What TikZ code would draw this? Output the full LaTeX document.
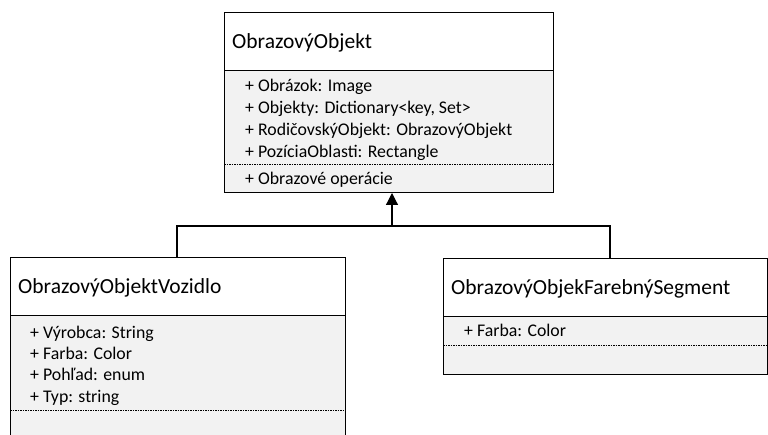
\documentclass[tikz,border=0pt]{standalone}
\usepackage{fontspec}
\setmainfont{Carlito}
\usetikzlibrary{arrows.meta}
\definecolor{compfill}{HTML}{F2F2F2}
\tikzset{
  x=1pt, y=-1pt,
  comp/.style={fill=compfill, draw=black, line width=1pt},
  head/.style={fill=white, draw=black, line width=1pt},
  sep/.style={draw=black, line width=0.6pt, dash pattern=on 1.5pt off 1pt},
  titletxt/.style={anchor=base west, inner sep=0pt, font=\fontsize{21.5}{24}\selectfont},
  attr/.style={anchor=base west, inner sep=0pt, font=\fontsize{17.8}{20}\selectfont},
  conn/.style={draw=black, line width=1.2pt},
}
\begin{document}
\begin{tikzpicture}
\useasboundingbox (0,0) rectangle (768,435);
% top class
\path[comp] (224,71) rectangle (553,193);
\path[head] (224,13) rectangle (553,71);
\draw[sep] (224,164) -- (553,164);
\node[titletxt] (t1) at (232,49) {ObrazovýObjekt};
\node[attr] (a1) at (245,92) {+ Obrázok: Image};
\node[attr] (a2) at (245,113.5) {+ Objekty: Dictionary<key, Set>};
\node[attr] (a3) at (245,135.5) {+ RodičovskýObjekt: ObrazovýObjekt};
\node[attr] (a4) at (245,157.5) {+ PozíciaOblasti: Rectangle};
\node[attr] (a5) at (245,184.5) {+ Obrazové operácie};
\coordinate (topb) at (392,193);
% left class
\path[comp] (10,316) rectangle (345,440);
\path[head] (10,258) rectangle (345,316);
\draw[sep] (10,410) -- (345,410);
\node[titletxt] (t2) at (18,294) {ObrazovýObjektVozidlo};
\node[attr] (b1) at (30,338) {+ Výrobca: String};
\node[attr] (b2) at (30,359.5) {+ Farba: Color};
\node[attr] (b3) at (30,381) {+ Pohľad: enum};
\node[attr] (b4) at (30,402.5) {+ Typ: string};
\coordinate (leftt) at (177,258);
% right class
\path[comp] (443,317) rectangle (767,374);
\path[head] (443,259) rectangle (767,317);
\draw[sep] (443,345) -- (767,345);
\node[titletxt] (t3) at (451,295) {ObrazovýObjekFarebnýSegment};
\node[attr] (c1) at (464,337) {+ Farba: Color};
\coordinate (rightt) at (610,259);
% connectors
\coordinate (j) at (392,226);
\draw[conn] (leftt) |- (j) -| (rightt);
\draw[conn, -{Triangle[length=12pt, width=12pt]}] (j) -- (topb);
\end{tikzpicture}
\end{document}
